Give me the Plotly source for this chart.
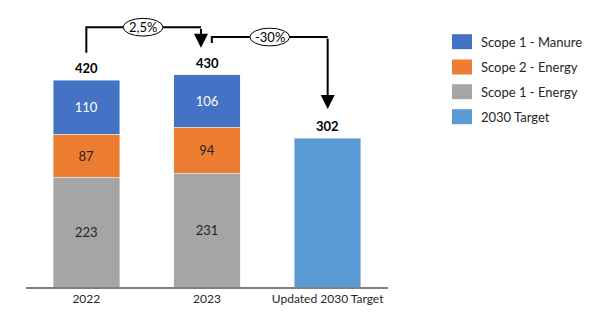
import plotly.graph_objects as go

categories = ["2022", "2023", "Updated 2030 Target"]
scope1_energy = [223, 231, None]
scope2_energy = [87, 94, None]
scope1_manure = [110, 106, None]
target_2030 = [None, None, 302]
totals = [420, 430, 302]
change_labels = ["2,5%", "-30%"]
series_names = ["Scope 1 - Manure", "Scope 2 - Energy", "Scope 1 - Energy", "2030 Target"]

C_MANURE = "#4472C4"
C_S2 = "#ED7D31"
C_S1E = "#A5A5A5"
C_TARGET = "#5B9BD5"
FONT = "Lato"
DARK = "#262626"

# plot geometry (px)
L, R, T, B = 26, 212, 0, 33
W, H = 600, 320
PH = H - T - B
YMAX = 583.3


def px2paper(px, py):
    return (px - L) / (W - L - R), (H - B - py) / PH


fig = go.Figure()


def txt(vals):
    return [("" if v is None else str(v)) for v in vals]


fig.add_trace(go.Bar(x=categories, y=scope1_energy, name=series_names[2], marker_color=C_S1E,
                     text=txt(scope1_energy), textposition="inside", insidetextanchor="middle",
                     textfont=dict(color=DARK, size=13, family=FONT)))
fig.add_trace(go.Bar(x=categories, y=scope2_energy, name=series_names[1], marker_color=C_S2,
                     text=txt(scope2_energy), textposition="inside", insidetextanchor="middle",
                     textfont=dict(color=DARK, size=13, family=FONT)))
fig.add_trace(go.Bar(x=categories, y=scope1_manure, name=series_names[0], marker_color=C_MANURE,
                     text=txt(scope1_manure), textposition="inside", insidetextanchor="middle",
                     textfont=dict(color="#FFFFFF", size=13, family=FONT)))
fig.add_trace(go.Bar(x=categories, y=target_2030, name=series_names[3], marker_color=C_TARGET,
                     textposition="none"))

annotations = []
shapes = []

# totals
for i, t in enumerate(totals):
    annotations.append(dict(x=i, y=t, xref="x", yref="y", text="<b>%d</b>" % t, showarrow=False,
                            yanchor="middle", yshift=12, font=dict(size=13, color="#000", family=FONT)))

# change arrows: (start x, start y, top y, end x, tip y, label x)
arrows = [
    (0.0, 476, 528, 0.95, 486, 0.47),
    (1.04, 496, 508, 2.0, 362, 1.52),
]
for (x0, y0, ytop, x1, ytip, lx), lab in zip(arrows, change_labels):
    shapes.append(dict(type="path", xref="x", yref="y",
                       path="M %f,%f L %f,%f L %f,%f" % (x0, y0, x0, ytop, x1, ytop),
                       line=dict(color="#000", width=2)))
    annotations.append(dict(x=x1, y=ytip, ax=x1, ay=ytop, xref="x", yref="y", axref="x", ayref="y",
                            text="", showarrow=True, arrowhead=2, arrowsize=1.4, arrowwidth=2,
                            arrowcolor="#000"))
    shapes.append(dict(type="circle", xref="x", yref="y", x0=lx - 0.165, x1=lx + 0.165,
                       y0=ytop - 18, y1=ytop + 18, fillcolor="#fff",
                       line=dict(color="#000", width=1)))
    annotations.append(dict(x=lx, y=ytop, xref="x", yref="y", text=lab, showarrow=False,
                            font=dict(size=13, color="#000", family=FONT)))

# manual legend
leg_colors = [C_MANURE, C_S2, C_S1E, C_TARGET]
leg_y = [41.7, 67.0, 91.7, 116.7]
for name, col, cy in zip(series_names, leg_colors, leg_y):
    x0, y0 = px2paper(452, cy + 7.5)
    x1, y1 = px2paper(472, cy - 7.5)
    shapes.append(dict(type="rect", xref="paper", yref="paper", x0=x0, x1=x1, y0=y0, y1=y1,
                       fillcolor=col, line=dict(width=0)))
    tx, ty = px2paper(479, cy)
    annotations.append(dict(x=tx, y=ty, xref="paper", yref="paper", text=name, showarrow=False,
                            xanchor="left", yanchor="middle",
                            font=dict(size=13, color=DARK, family=FONT)))

fig.update_layout(
    width=W, height=H, barmode="stack", bargap=0.45,
    margin=dict(l=L, r=R, t=T, b=B),
    paper_bgcolor="#fff", plot_bgcolor="#fff",
    showlegend=False,
    font=dict(family=FONT, color=DARK, size=13),
    annotations=annotations, shapes=shapes,
    xaxis=dict(range=[-0.5, 2.5], showline=True, linecolor="#7F7F7F", linewidth=1.5,
               ticks="", showgrid=False, tickfont=dict(size=12, color=DARK, family=FONT),
               fixedrange=True),
    yaxis=dict(range=[0, YMAX], visible=False, showgrid=False, fixedrange=True),
)

fig.write_html("out.html")
